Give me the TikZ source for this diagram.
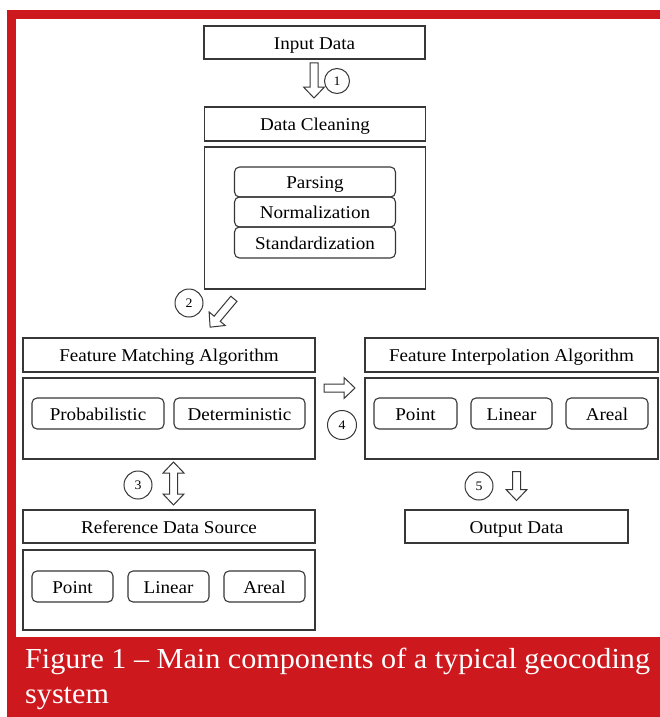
\documentclass[tikz,border=0pt]{standalone}
\usepackage{fontspec}
\setmainfont{Liberation Serif}[FakeStretch=1.06]
\newfontfamily\capfont{Liberation Serif}[FakeStretch=1.04]
\definecolor{capred}{RGB}{205,24,30}
\definecolor{boxline}{RGB}{55,55,55}
\newcommand\hollowarrow[3]{%
  \begin{scope}[shift={#1}, rotate=#2]
    \draw[arrowline] (-#3/2,-4) -- (#3/2-11,-4) -- (#3/2-11,-10.5) -- (#3/2,0)
      -- (#3/2-11,10.5) -- (#3/2-11,4) -- (-#3/2,4) -- cycle;
  \end{scope}}
\newcommand\hollowdarrow[3]{%
  \begin{scope}[shift={#1}, rotate=#2]
    \draw[arrowline] (-#3/2+11,-4) -- (#3/2-11,-4) -- (#3/2-11,-10.5) -- (#3/2,0)
      -- (#3/2-11,10.5) -- (#3/2-11,4) -- (-#3/2+11,4) -- (-#3/2+11,10.5)
      -- (-#3/2,0) -- (-#3/2+11,-10.5) -- cycle;
  \end{scope}}
\begin{document}
\begin{tikzpicture}[x=1pt,y=-1pt,
  txt/.style={font=\fontsize{18}{20}\selectfont, text height=13pt, text depth=0pt},
  box/.style={draw=boxline, line width=1.3pt, inner sep=0pt, outer sep=0pt, txt},
  rbox/.style={box, rounded corners=5pt, line width=1.1pt},
  numc/.style={circle, draw=boxline, line width=1pt, minimum size=28pt, inner sep=0pt,
    font=\fontsize{13}{14}\selectfont},
  arrowline/.style={draw=boxline, line width=1pt, line join=miter},
  captxt/.style={anchor=base west, text=white, inner sep=0pt, font=\capfont\fontsize{29}{32}\selectfont}]
\useasboundingbox (0,0) rectangle (660,717);
% frame
\fill[capred] (7,10) rectangle (660,717);
\fill[white] (16,19) rectangle (660,637);
% top column
\node[box, minimum width=221pt, minimum height=33pt] (in) at (314.5,42.5) {Input Data};
\node[box, minimum width=221pt, minimum height=34pt] (dc) at (315,124) {Data Cleaning};
\node[box, minimum width=221pt, minimum height=142pt] (dcc) at (315,218) {};
\node[rbox, minimum width=161pt, minimum height=30pt] (pa) at (315,182) {Parsing};
\node[rbox, minimum width=161pt, minimum height=30pt] (no) at (315,212) {Normalization};
\node[rbox, minimum width=161pt, minimum height=31pt] (st) at (315,242.5) {Standardization};
% feature matching
\node[box, minimum width=292pt, minimum height=34pt] (fm) at (169,355) {Feature Matching Algorithm};
\node[box, minimum width=292pt, minimum height=81pt] (fmc) at (169,418.5) {};
\node[rbox, minimum width=132pt, minimum height=31pt] (pr) at (98,413.5) {Probabilistic};
\node[rbox, minimum width=131pt, minimum height=31pt] (de) at (239.5,413.5) {Deterministic};
% feature interpolation
\node[box, minimum width=293pt, minimum height=34pt] (fi) at (511.5,355) {Feature Interpolation Algorithm};
\node[box, minimum width=293pt, minimum height=81pt] (fic) at (511.5,418.5) {};
\node[rbox, minimum width=83pt, minimum height=31pt] (fp) at (415.5,413.5) {Point};
\node[rbox, minimum width=81pt, minimum height=31pt] (fl) at (511.5,413.5) {Linear};
\node[rbox, minimum width=82pt, minimum height=31pt] (fa) at (607,413.5) {Areal};
% reference data source
\node[box, minimum width=292pt, minimum height=33pt] (rd) at (169,526.5) {Reference Data Source};
\node[box, minimum width=292pt, minimum height=80pt] (rdc) at (169,590) {};
\node[rbox, minimum width=81pt, minimum height=31pt] (rp) at (72.5,586.5) {Point};
\node[rbox, minimum width=81pt, minimum height=31pt] (rl) at (168.5,586.5) {Linear};
\node[rbox, minimum width=81pt, minimum height=31pt] (ra) at (264.5,586.5) {Areal};
% output
\node[box, minimum width=223pt, minimum height=33pt] (out) at (516.5,526.5) {Output Data};
% numbered circles
\node[numc, minimum size=25pt] (c1) at (337,81) {1};
\node[numc] (c2) at (189,303) {2};
\node[numc] (c3) at (138,485) {3};
\node[numc, minimum size=29pt] (c4) at (342,425) {4};
\node[numc] (c5) at (479,486) {5};
% block arrows
\coordinate (a1) at (314,80.5);
\coordinate (a2) at (222,313);
\coordinate (a3) at (173.5,483.5);
\coordinate (a4) at (339.5,388);
\coordinate (a5) at (516.5,486);
\hollowarrow{(a1)}{-90}{35}
\hollowarrow{(a2)}{-130}{37}
\hollowdarrow{(a3)}{90}{43}
\hollowarrow{(a4)}{0}{31}
\hollowarrow{(a5)}{-90}{29}
% caption
\node[captxt] (cap1) at (25,668) {Figure 1 – Main components of a typical geocoding};
\node[captxt] (cap2) at (25,703) {system};
\end{tikzpicture}
\end{document}
